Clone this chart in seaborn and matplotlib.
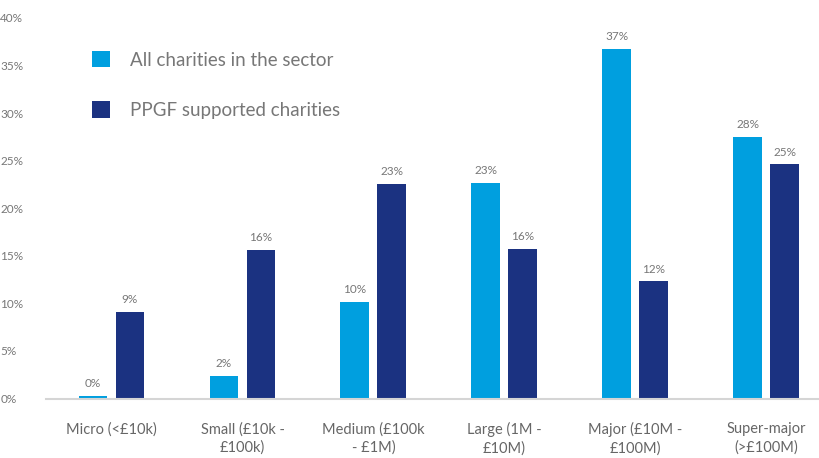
import matplotlib
matplotlib.use("Agg")
import matplotlib.pyplot as plt
import seaborn as sns
import pandas as pd
from matplotlib.patches import Patch

categories = ["Micro (<£10k)", "Small (£10k -\n£100k)", "Medium (£100k\n- £1M)",
              "Large (1M -\n£10M)", "Major (£10M -\n£100M)", "Super-major\n(>£100M)"]
series_names = ["All charities in the sector", "PPGF supported charities"]
sector_values = [0.3, 2.4, 10.1, 22.7, 36.7, 27.5]
ppgf_values = [9.1, 15.6, 22.6, 15.7, 12.3, 24.6]
yticks = [0, 5, 10, 15, 20, 25, 30, 35, 40]
colors = ["#009FDF", "#1B3281"]

df = pd.DataFrame({
    "category": categories * 2,
    "series": [series_names[0]] * 6 + [series_names[1]] * 6,
    "value": sector_values + ppgf_values,
})

sns.set_style("white")
plt.rcParams["font.family"] = ["Lato", "DejaVu Sans"]

fig = plt.figure(figsize=(8.2, 4.58), dpi=100)
ax = fig.add_axes([46/820, 1 - 398.5/458, 1 - 46/820, (398.5 - 18)/458])

sns.barplot(data=df, x="category", y="value", hue="series", order=categories,
            hue_order=series_names, palette=colors, saturation=1, width=0.565, gap=0.22,
            ax=ax, legend=False, edgecolor="none", linewidth=0)

for cont in ax.containers:
    ax.bar_label(cont, labels=[f"{v:.0f}%" for v in cont.datavalues],
                 padding=5, fontsize=8.5, color="#777777")

ax.set_ylim(0, 40)
ax.set_xlim(-0.5, 5.41)
ax.set_yticks(yticks)
ax.set_yticklabels([f"{t}%" for t in yticks])
ax.tick_params(axis="y", length=0, labelsize=8.5, labelcolor="#777777")
ax.tick_params(axis="x", length=0, labelsize=10.5, labelcolor="#666666", pad=17)
for lab in ax.get_yticklabels():
    lab.set_horizontalalignment("left")
for lab in ax.get_xticklabels():
    lab.set_linespacing(1.35)
ax.yaxis.set_tick_params(pad=33)
ax.set_xlabel("")
ax.set_ylabel("")
for s in ["top", "right", "left"]:
    ax.spines[s].set_visible(False)
ax.spines["bottom"].set_color("#D5D5D5")
ax.spines["bottom"].set_linewidth(1.5)

handles = [Patch(facecolor=c, edgecolor="none") for c in colors]
fig.legend(handles, series_names, loc="upper left", bbox_to_anchor=(92/820, 1 - 51/458),
           frameon=False, fontsize=13.5, labelcolor="#777777", borderpad=0, borderaxespad=0,
           handlelength=0.95, handleheight=0.95, handletextpad=1.1, labelspacing=1.75)

fig.savefig("out.png", dpi=100)
